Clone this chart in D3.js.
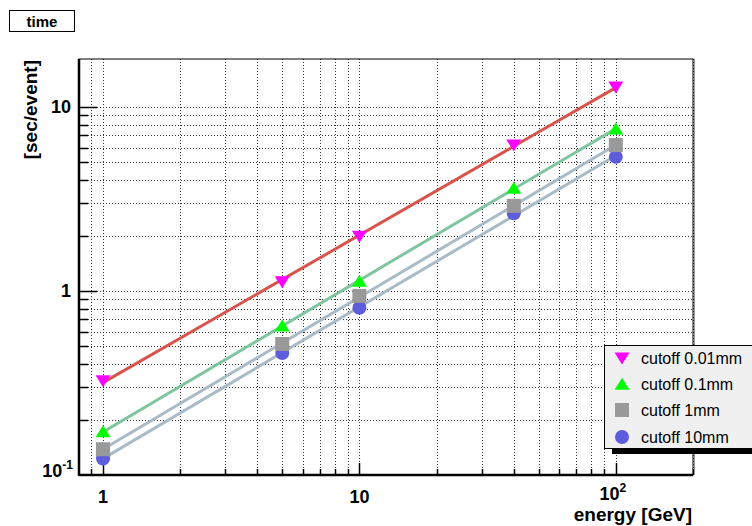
<!DOCTYPE html>
<html>
<head>
<meta charset="utf-8">
<script src="https://cdn.jsdelivr.net/npm/d3@7"></script>
<style>
	body { margin: 0; background: #fff; }
	text { font-family: "Liberation Sans", Arial, sans-serif; }
</style>
</head>
<body>
<div id="chart"></div>
<script>
// energies in GeV
const energies = [1, 5, 10, 40, 100];

// time per event [sec/event] for each cutoff
const cutoff001 = [0.325, 1.12, 1.98, 6.2, 12.8];
const cutoff01 = [0.172, 0.645, 1.13, 3.62, 7.6];
const cutoff1 = [0.138, 0.515, 0.94, 2.9, 6.2];
const cutoff10 = [0.123, 0.46, 0.81, 2.64, 5.35];

const series_names = ["cutoff 0.01mm", "cutoff 0.1mm", "cutoff 1mm", "cutoff 10mm"];
const x_ticks = [1, 10, 100];
const y_ticks = [0.1, 1, 10];

const series = [
	{ name: series_names[0], values: cutoff001, marker: "tri_down", fill: "#ff00ff", line: "#d6544c" },
	{ name: series_names[1], values: cutoff01, marker: "tri_up", fill: "#00ff00", line: "#80c4a0" },
	{ name: series_names[2], values: cutoff1, marker: "square", fill: "#999999", line: "#aabbc8" },
	{ name: series_names[3], values: cutoff10, marker: "circle", fill: "#5c5cdc", line: "#aabbc8" },
];

const width = 752, height = 526;
const frame = { left: 79, right: 693, top: 59, bottom: 475 };

const svg = d3
	.select("#chart")
	.append("svg")
	.attr("width", width)
	.attr("height", height);

const x = d3.scaleLog().domain([0.806, 200]).range([frame.left, frame.right]);
const y = d3.scaleLog().domain([0.1, 18.2]).range([frame.bottom, frame.top]);

// minor + major grid positions
let x_grid = [];
for (let d = 0.1; d <= 100; d *= 10) {
	for (let k = 1; k <= 9; k++) {
		const v = d * k;
		if (v > x.domain()[0] && v < x.domain()[1]) x_grid.push(v);
	}
}
x_grid.push(200);
let y_grid = [];
for (let d = 0.1; d <= 10; d *= 10) {
	for (let k = 1; k <= 9; k++) {
		const v = d * k;
		if (v > y.domain()[0] && v < y.domain()[1]) y_grid.push(v);
	}
}

const grid = svg.append("g").attr("stroke", "#333").attr("stroke-width", 1).attr("stroke-dasharray", "1,2");
grid.selectAll("line.vx")
	.data(x_grid)
	.enter()
	.append("line")
	.attr("x1", (d) => Math.round(x(d)) + 0.5)
	.attr("x2", (d) => Math.round(x(d)) + 0.5)
	.attr("y1", frame.top)
	.attr("y2", frame.bottom);
grid.selectAll("line.hy")
	.data(y_grid)
	.enter()
	.append("line")
	.attr("y1", (d) => Math.round(y(d)) + 0.5)
	.attr("y2", (d) => Math.round(y(d)) + 0.5)
	.attr("x1", frame.left)
	.attr("x2", frame.right);

// axis ticks (ROOT style, pointing inside)
const is_major = (v) => Math.abs(Math.log10(v) - Math.round(Math.log10(v))) < 1e-6;
svg.append("g")
	.selectAll("line")
	.data(x_grid)
	.enter()
	.append("line")
	.attr("x1", (d) => Math.round(x(d)) + 0.5)
	.attr("x2", (d) => Math.round(x(d)) + 0.5)
	.attr("y1", frame.bottom)
	.attr("y2", (d) => frame.bottom - (is_major(d) ? 12 : 6))
	.attr("stroke", "#000")
	.attr("stroke-width", 1.5);
svg.append("g")
	.selectAll("line")
	.data(y_grid)
	.enter()
	.append("line")
	.attr("y1", (d) => Math.round(y(d)) + 0.5)
	.attr("y2", (d) => Math.round(y(d)) + 0.5)
	.attr("x1", frame.left)
	.attr("x2", (d) => frame.left + (is_major(d) ? 18 : 9))
	.attr("stroke", "#000")
	.attr("stroke-width", 1.5);

// frame
svg.append("line").attr("x1", frame.right + 1.5).attr("x2", frame.right + 1.5)
	.attr("y1", frame.top).attr("y2", frame.bottom).attr("stroke", "#999").attr("stroke-width", 1);
svg.append("rect")
	.attr("x", frame.left)
	.attr("y", frame.top)
	.attr("width", frame.right - frame.left)
	.attr("height", frame.bottom - frame.top)
	.attr("fill", "none")
	.attr("stroke", "#000")
	.attr("stroke-width", 1);
svg.append("line").attr("x1", frame.left).attr("x2", frame.right)
	.attr("y1", frame.bottom).attr("y2", frame.bottom).attr("stroke", "#000").attr("stroke-width", 2.5);
svg.append("line").attr("x1", frame.left).attr("x2", frame.left)
	.attr("y1", frame.top).attr("y2", frame.bottom + 1).attr("stroke", "#000").attr("stroke-width", 2.5);

// power-law fit through each series (least squares in log-log)
function fit(vals) {
	const lx = energies.map(Math.log10), ly = vals.map(Math.log10);
	const mx = d3.mean(lx), my = d3.mean(ly);
	let sxy = 0, sxx = 0;
	for (let i = 0; i < lx.length; i++) {
		sxy += (lx[i] - mx) * (ly[i] - my);
		sxx += (lx[i] - mx) * (lx[i] - mx);
	}
	const b = sxy / sxx, a = my - b * mx;
	return (e) => Math.pow(10, a + b * Math.log10(e));
}

const lines = svg.append("g");
series.forEach((s) => {
	const f = fit(s.values);
	const e0 = energies[0], e1 = energies[energies.length - 1];
	lines.append("line")
		.attr("x1", x(e0)).attr("y1", y(f(e0)))
		.attr("x2", x(e1)).attr("y2", y(f(e1)))
		.attr("stroke", s.line)
		.attr("stroke-width", 3);
});

// markers
function marker(g, type, cx, cy, fill) {
	const r = 7.5;
	if (type == "tri_down") {
		g.append("path").attr("d", `M${cx - r},${cy - r * 0.75}L${cx + r},${cy - r * 0.75}L${cx},${cy + r * 0.85}Z`).attr("fill", fill);
	} else if (type == "tri_up") {
		g.append("path").attr("d", `M${cx - r},${cy + r * 0.75}L${cx + r},${cy + r * 0.75}L${cx},${cy - r * 0.85}Z`).attr("fill", fill);
	} else if (type == "square") {
		g.append("rect").attr("x", cx - 7).attr("y", cy - 7).attr("width", 14).attr("height", 14).attr("fill", fill);
	} else {
		g.append("circle").attr("cx", cx).attr("cy", cy).attr("r", 7).attr("fill", fill);
	}
}

const points = svg.append("g");
series.slice().reverse().forEach((s) => {
	s.values.forEach((v, i) => marker(points, s.marker, x(energies[i]), y(v), s.fill));
});

// tick labels
const lbl = svg.append("g").attr("font-weight", "bold").attr("font-size", 18).attr("fill", "#000");
x_ticks.forEach((t) => {
	const p = x(t);
	if (t < 100) {
		lbl.append("text").attr("x", p).attr("y", 503).attr("text-anchor", "middle").text(t);
	} else {
		const tx = lbl.append("text").attr("x", p - 3).attr("y", 500).attr("text-anchor", "middle");
		tx.append("tspan").text("10");
		tx.append("tspan").attr("font-size", 12).attr("dy", -8).text(Math.log10(t));
	}
});
y_ticks.forEach((t) => {
	const p = y(t);
	if (t >= 1) {
		lbl.append("text").attr("x", 71).attr("y", p + 6).attr("text-anchor", "end").text(t);
	} else {
		const tx = lbl.append("text").attr("x", 73).attr("y", p + 2).attr("text-anchor", "end");
		tx.append("tspan").text("10");
		tx.append("tspan").attr("font-size", 12).attr("dy", -8).text(Math.log10(t));
	}
});

// axis titles
svg.append("text")
	.attr("x", 692).attr("y", 521)
	.attr("text-anchor", "end")
	.attr("font-weight", "bold").attr("font-size", 19)
	.text("energy [GeV]");
svg.append("text")
	.attr("transform", "translate(37,60) rotate(-90)")
	.attr("text-anchor", "end")
	.attr("font-weight", "bold").attr("font-size", 19)
	.text("[sec/event]");

// title box
svg.append("rect").attr("x", 9.5).attr("y", 10.5).attr("width", 65).attr("height", 21)
	.attr("fill", "#fff").attr("stroke", "#000").attr("stroke-width", 1);
svg.append("text").attr("x", 42).attr("y", 27).attr("text-anchor", "middle")
	.attr("font-weight", "bold").attr("font-size", 15).text("time");

// legend
const leg = svg.append("g");
leg.append("rect").attr("x", 612).attr("y", 350).attr("width", 150).attr("height", 104).attr("fill", "#000");
leg.append("rect").attr("x", 604.5).attr("y", 345.5).attr("width", 160).attr("height", 103)
	.attr("fill", "#f0f0f0").attr("stroke", "#000").attr("stroke-width", 1);
const leg_y = [358, 384, 410, 437];
series.forEach((s, i) => {
	marker(leg, s.marker, 622, leg_y[i], s.fill);
	leg.append("text").attr("x", 641).attr("y", leg_y[i] + 6)
		.attr("font-size", 16).attr("fill", "#000").text(s.name);
});
</script>
</body>
</html>
